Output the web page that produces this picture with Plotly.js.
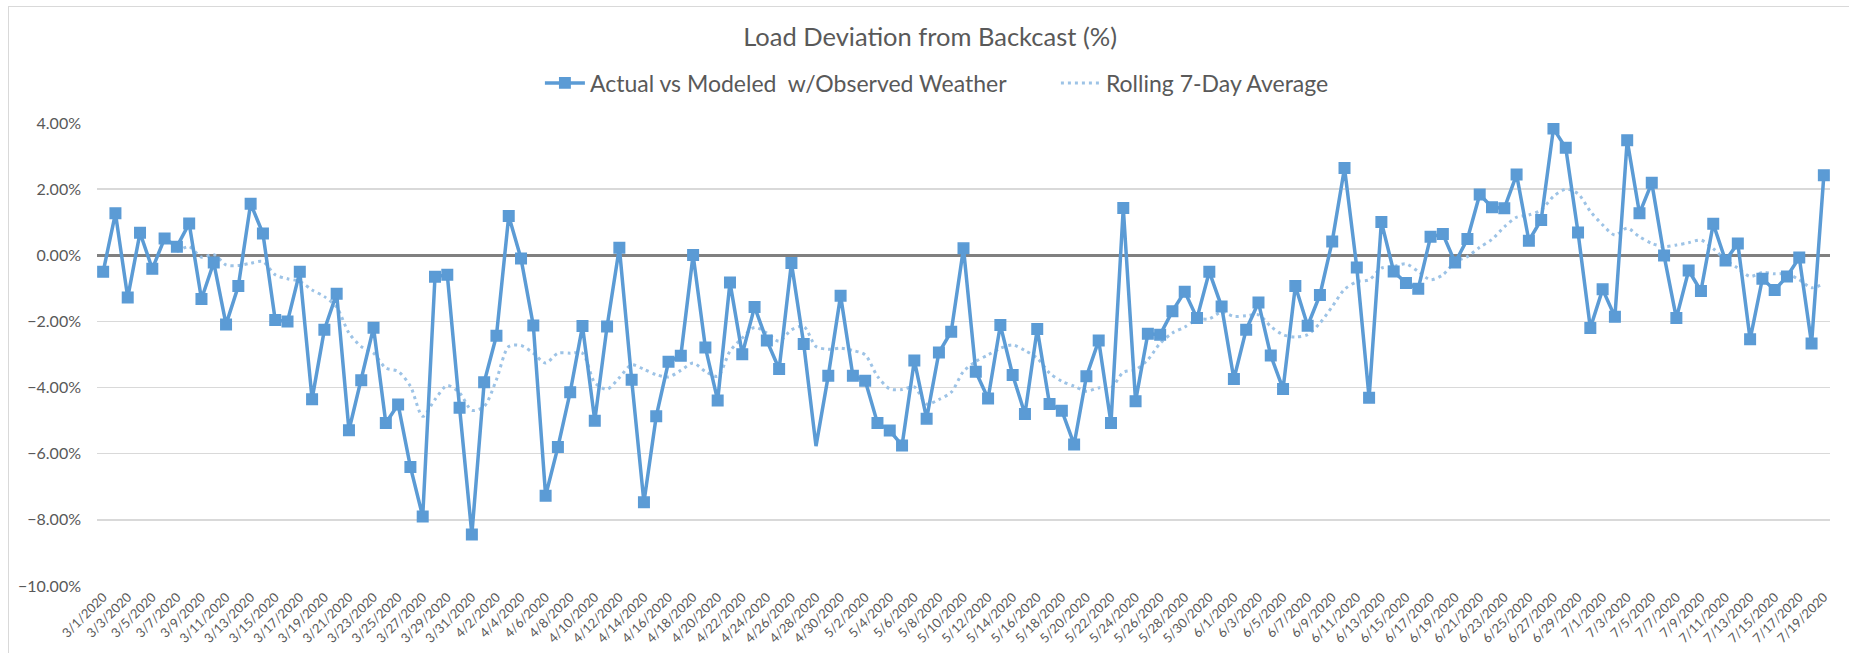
<!DOCTYPE html>
<html>
<head>
<meta charset="utf-8">
<script src="https://cdn.plot.ly/plotly-3.0.1.min.js"></script>
<style>
  html, body { margin: 0; padding: 0; background: #ffffff; }
  #wrap { position: relative; width: 1849px; height: 653px; overflow: hidden; }
  #chart { position: absolute; left: 0; top: 0; width: 1849px; height: 653px; }
  #frame { position: absolute; left: 8px; top: 6px; width: 1900px; height: 700px;
           border-left: 1px solid #D9D9D9; border-top: 1px solid #D9D9D9; pointer-events: none; }
</style>
</head>
<body>
<div id="wrap">
  <div id="chart"></div>
  <div id="frame"></div>
</div>
<script>
// ---- categories (daily) ----
const dates = [
 "3/1/2020","3/2/2020","3/3/2020","3/4/2020","3/5/2020","3/6/2020","3/7/2020","3/8/2020","3/9/2020","3/10/2020",
 "3/11/2020","3/12/2020","3/13/2020","3/14/2020","3/15/2020","3/16/2020","3/17/2020","3/18/2020","3/19/2020","3/20/2020",
 "3/21/2020","3/22/2020","3/23/2020","3/24/2020","3/25/2020","3/26/2020","3/27/2020","3/28/2020","3/29/2020","3/30/2020","3/31/2020",
 "4/1/2020","4/2/2020","4/3/2020","4/4/2020","4/5/2020","4/6/2020","4/7/2020","4/8/2020","4/9/2020","4/10/2020",
 "4/11/2020","4/12/2020","4/13/2020","4/14/2020","4/15/2020","4/16/2020","4/17/2020","4/18/2020","4/19/2020","4/20/2020",
 "4/21/2020","4/22/2020","4/23/2020","4/24/2020","4/25/2020","4/26/2020","4/27/2020","4/28/2020","4/29/2020","4/30/2020",
 "5/1/2020","5/2/2020","5/3/2020","5/4/2020","5/5/2020","5/6/2020","5/7/2020","5/8/2020","5/9/2020","5/10/2020",
 "5/11/2020","5/12/2020","5/13/2020","5/14/2020","5/15/2020","5/16/2020","5/17/2020","5/18/2020","5/19/2020","5/20/2020",
 "5/21/2020","5/22/2020","5/23/2020","5/24/2020","5/25/2020","5/26/2020","5/27/2020","5/28/2020","5/29/2020","5/30/2020","5/31/2020",
 "6/1/2020","6/2/2020","6/3/2020","6/4/2020","6/5/2020","6/6/2020","6/7/2020","6/8/2020","6/9/2020","6/10/2020",
 "6/11/2020","6/12/2020","6/13/2020","6/14/2020","6/15/2020","6/16/2020","6/17/2020","6/18/2020","6/19/2020","6/20/2020",
 "6/21/2020","6/22/2020","6/23/2020","6/24/2020","6/25/2020","6/26/2020","6/27/2020","6/28/2020","6/29/2020","6/30/2020",
 "7/1/2020","7/2/2020","7/3/2020","7/4/2020","7/5/2020","7/6/2020","7/7/2020","7/8/2020","7/9/2020","7/10/2020",
 "7/11/2020","7/12/2020","7/13/2020","7/14/2020","7/15/2020","7/16/2020","7/17/2020","7/18/2020","7/19/2020"
];

// ---- series: Actual vs Modeled w/Observed Weather (%) ----
const actualVsModeled = [
 -0.50, 1.27,-1.28, 0.68,-0.41, 0.51, 0.26, 0.96,-1.32,-0.22,
 -2.09,-0.93, 1.56, 0.66,-1.96,-2.00,-0.50,-4.35,-2.25,-1.16,
 -5.29,-3.78,-2.19,-5.07,-4.51,-6.40,-7.90,-0.65,-0.59,-4.61,-8.44,
 -3.84,-2.43, 1.19,-0.10,-2.12,-7.27,-5.80,-4.14,-2.14,-5.00,
 -2.15, 0.23,-3.76,-7.47,-4.87,-3.22,-3.04, 0.01,-2.79,-4.39,
 -0.82,-2.99,-1.56,-2.58,-3.44,-0.23,-2.68,-5.77,-3.64,-1.22,
 -3.64,-3.79,-5.07,-5.30,-5.75,-3.18,-4.94,-2.94,-2.31, 0.21,
 -3.52,-4.33,-2.11,-3.62,-4.80,-2.23,-4.50,-4.70,-5.72,-3.66,
 -2.58,-5.07, 1.43,-4.41,-2.37,-2.40,-1.69,-1.10,-1.90,-0.50,-1.55,
 -3.74,-2.25,-1.43,-3.03,-4.04,-0.93,-2.13,-1.20, 0.42, 2.64,
 -0.37,-4.31, 1.01,-0.49,-0.84,-1.01, 0.56, 0.64,-0.22, 0.49,
  1.84, 1.45, 1.42, 2.44, 0.44, 1.07, 3.83, 3.25, 0.69,-2.20,
 -1.03,-1.86, 3.48, 1.27, 2.19,-0.01,-1.90,-0.46,-1.08, 0.95,
 -0.16, 0.36,-2.54,-0.71,-1.05,-0.64,-0.07,-2.67, 2.42
];

// ---- series: Rolling 7-Day Average (%) ----
const rolling7Day = [
 null, null, null, null, null, null, 0.11, 0.26,-0.06, 0.02,
 -0.29,-0.31,-0.24,-0.19,-0.59,-0.71,-0.79,-1.05,-1.25,-1.57,
 -2.35,-2.76,-2.96,-3.41,-3.51,-3.96,-4.87,-4.36,-3.94,-4.16,-4.69,
 -4.57,-3.76,-2.76,-2.73,-2.96,-3.26,-2.96,-2.96,-2.96,-3.85,
 -4.05,-3.70,-3.31,-3.45,-3.61,-3.68,-3.48,-3.26,-3.51,-3.66,
 -2.90,-2.50,-2.18,-2.35,-2.60,-2.25,-2.15,-2.76,-2.84,-2.81,
 -2.88,-3.01,-3.66,-4.04,-4.06,-3.98,-4.50,-4.36,-4.14,-3.51,
 -3.21,-3.01,-2.81,-2.71,-2.88,-3.11,-3.56,-3.81,-3.96,-4.11,
 -4.01,-4.01,-3.54,-3.46,-3.16,-2.66,-2.35,-2.17,-1.94,-1.92,-1.72,
 -1.85,-1.83,-1.80,-2.15,-2.40,-2.47,-2.40,-2.05,-1.55,-1.03,
 -0.80,-0.74,-0.39,-0.34,-0.26,-0.49,-0.74,-0.59,-0.20,-0.04,
  0.24, 0.48, 0.86, 1.15, 1.22, 1.37, 1.78, 2.00, 1.86, 1.33,
  0.92, 0.61, 0.82, 0.56, 0.36, 0.26, 0.31, 0.38, 0.46, 0.20,
 -0.14,-0.39,-0.64,-0.52,-0.56,-0.56,-0.74,-0.98,-0.86
];

const seriesNames = ["Actual vs Modeled  w/Observed Weather", "Rolling 7-Day Average"];
const chartTitle = "Load Deviation from Backcast (%)";

// style-only: dates whose marker is not drawn in the original
const noMarkerDates = ["4/28/2020"];
const markerSizes = dates.map(d => noMarkerDates.includes(d) ? 0 : 10.5);
const markerLineWidths = dates.map(d => noMarkerDates.includes(d) ? 0 : 1.5);

const FONT = "Lato, 'Open Sans', 'Liberation Sans', sans-serif";
const GREY = "#595959";

const traces = [
  {
    x: dates, y: rolling7Day, name: seriesNames[1], type: "scatter", mode: "lines",
    line: { color: "#9DC3E6", width: 3, dash: "3px,4px", shape: "spline", smoothing: 0.8 },
    connectgaps: false, hoverinfo: "x+y"
  },
  {
    x: dates, y: actualVsModeled, name: seriesNames[0], type: "scatter", mode: "lines+markers",
    line: { color: "#5B9BD5", width: 3.5 },
    marker: { symbol: "square", size: markerSizes, color: "#5B9BD5", opacity: 1,
              line: { color: "#5B9BD5", width: markerLineWidths } },
    hoverinfo: "x+y"
  }
];

const layout = {
  width: 1849, height: 653,
  paper_bgcolor: "#ffffff", plot_bgcolor: "#ffffff",
  margin: { l: 97, r: 19, t: 123, b: 67, pad: 0 },
  font: { family: FONT, color: GREY },
  title: {
    text: chartTitle,
    font: { family: FONT, size: 25.5, color: GREY },
    xref: "container", x: 0.503, xanchor: "center",
    yref: "container", y: 0.943, yanchor: "middle"
  },
  showlegend: true,
  legend: {
    orientation: "h", traceorder: "reversed",
    xref: "container", x: 0.292, xanchor: "left",
    yref: "container", y: 0.873, yanchor: "middle",
    font: { family: FONT, size: 23, color: GREY },
    bgcolor: "rgba(0,0,0,0)", itemwidth: 40,
    entrywidth: 461, entrywidthmode: "pixels"
  },
  xaxis: {
    type: "category",
    range: [-0.5, dates.length - 0.5],
    tickmode: "linear", tick0: 0, dtick: 2,
    tickangle: -45,
    tickfont: { family: FONT, size: 13, color: GREY },
    showgrid: false, zeroline: false,
    showline: false, ticks: "",
    automargin: false, fixedrange: true
  },
  yaxis: {
    range: [-10, 4],
    tickmode: "linear", tick0: 0, dtick: 2,
    tickformat: ".2f", ticksuffix: "%",
    tickfont: { family: FONT, size: 16, color: GREY },
    showgrid: true, gridcolor: "#D9D9D9", gridwidth: 1.3,
    zeroline: true, zerolinecolor: "#808080", zerolinewidth: 3,
    showline: false, ticks: "", ticklabelstandoff: 15,
    automargin: false, fixedrange: true
  }
};

Plotly.newPlot("chart", traces, layout, { staticPlot: true, displayModeBar: false });
</script>
</body>
</html>
